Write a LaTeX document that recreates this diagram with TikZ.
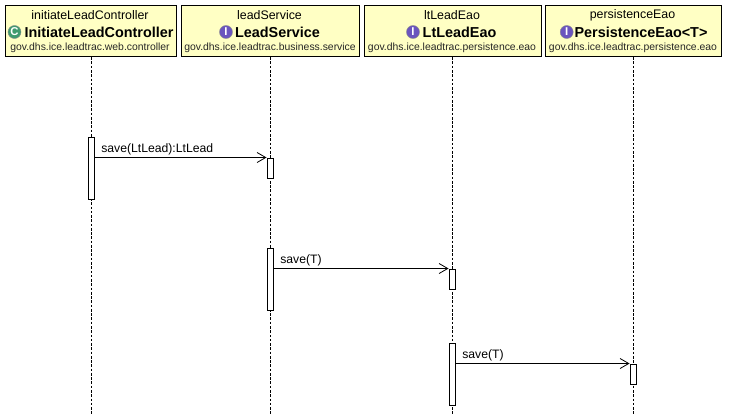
\documentclass[tikz,border=0pt]{standalone}
\usepackage{fontspec}
\setmainfont{Liberation Sans}
\usetikzlibrary{arrows.meta}
\definecolor{boxfill}{HTML}{FFFFC4}
\definecolor{classicon}{HTML}{3E9A6E}
\definecolor{ifaceicon}{HTML}{6B55BE}
\tikzset{
  lifebox/.style={draw,line width=0.9pt,fill=boxfill,anchor=north west,inner sep=0pt},
  objname/.style={font=\fontsize{9.3}{10}\selectfont,inner sep=0pt},
  clsname/.style={font=\fontsize{10.8}{12}\bfseries\selectfont,inner sep=0pt},
  pkgname/.style={font=\fontsize{7.8}{9}\selectfont,inner sep=0pt,text=black!85},
  icon/.style={circle,draw=black!45,line width=0.3pt,minimum size=9.8pt,inner sep=0pt,text=white,
    font=\fontsize{8.5}{9}\bfseries\selectfont},
  lifeline/.style={densely dashed,dash pattern=on 2pt off 1.2pt,line width=0.6pt},
  bar/.style={draw,line width=0.75pt,fill=white,minimum width=5.2pt,inner sep=0pt,anchor=north},
  msg/.style={line width=0.75pt,-{Straight Barb[length=6.5pt,width=7.5pt,line width=0.6pt]}},
  msgtxt/.style={font=\fontsize{9.15}{10}\selectfont,inner sep=0pt,anchor=base west}
}
\begin{document}
\begin{tikzpicture}[x=0.75pt,y=-0.75pt]
\useasboundingbox (0,0) rectangle (731,415);
\node[lifebox,minimum width=128.25pt,minimum height=38.25pt] (ctrl) at (5,5) {};
\node[lifebox,minimum width=133.5pt,minimum height=38.25pt] (svc) at (181,5) {};
\node[lifebox,minimum width=132.75pt,minimum height=38.25pt] (eao) at (364,5) {};
\node[lifebox,minimum width=132pt,minimum height=38.25pt] (pers) at (545,5) {};
\node[objname] (ctrlobj) at (90,15) {initiateLeadController};
\node[clsname] (ctrlcls) at (99,32) {InitiateLeadController};
\node[icon,fill=classicon] (ctrlico) at (14.5,32) {C};
\node[pkgname] (ctrlpkg) at (90,48) {gov.dhs.ice.leadtrac.web.controller};
\node[objname] (svcobj) at (269.5,15) {leadService};
\node[clsname] (svccls) at (277.5,32) {LeadService};
\node[icon,fill=ifaceicon] (svcico) at (226,32) {I};
\node[pkgname] (svcpkg) at (270,48) {gov.dhs.ice.leadtrac.business.service};
\node[objname] (eaoobj) at (452,15) {ltLeadEao};
\node[clsname] (eaocls) at (459.5,32) {LtLeadEao};
\node[icon,fill=ifaceicon] (eaoico) at (413,32) {I};
\node[pkgname] (eaopkg) at (452,48) {gov.dhs.ice.leadtrac.persistence.eao};
\node[objname] (persobj) at (632.5,15) {persistenceEao};
\node[clsname] (perscls) at (641,32) {PersistenceEao<T>};
\node[icon,fill=ifaceicon] (persico) at (566.7,32) {I};
\node[pkgname] (perspkg) at (633,48) {gov.dhs.ice.leadtrac.persistence.eao};
\coordinate (ctrlend) at (91.5,415);
\coordinate (svcend) at (270,415);
\coordinate (eaoend) at (452,415);
\coordinate (persend) at (633,415);
\draw[lifeline] (ctrl.south -| ctrlend) -- (ctrlend);
\draw[lifeline] (svc.south -| svcend) -- (svcend);
\draw[lifeline] (eao.south -| eaoend) -- (eaoend);
\draw[lifeline] (pers.south -| persend) -- (persend);
\node[bar,minimum height=46.5pt] (bara) at (91.5,136.5) {};
\node[bar,minimum height=15pt] (barb) at (270.5,157.5) {};
\node[bar,minimum height=46.5pt] (barc) at (270.5,247.5) {};
\node[bar,minimum height=15pt] (bard) at (452.5,268.5) {};
\node[bar,minimum height=46.5pt] (bare) at (452.5,342.5) {};
\node[bar,minimum height=15pt] (barf) at (633.5,363.5) {};
\draw[msg] (bara.east |- barb.north) -- (barb.north west);
\draw[msg] (barc.east |- bard.north) -- (bard.north west);
\draw[msg] (bare.east |- barf.north) -- (barf.north west);
\node[msgtxt] (msga) at (101,152) {save(LtLead):LtLead};
\node[msgtxt] (msgb) at (280,263) {save(T)};
\node[msgtxt] (msgc) at (462,358) {save(T)};
\end{tikzpicture}
\end{document}
